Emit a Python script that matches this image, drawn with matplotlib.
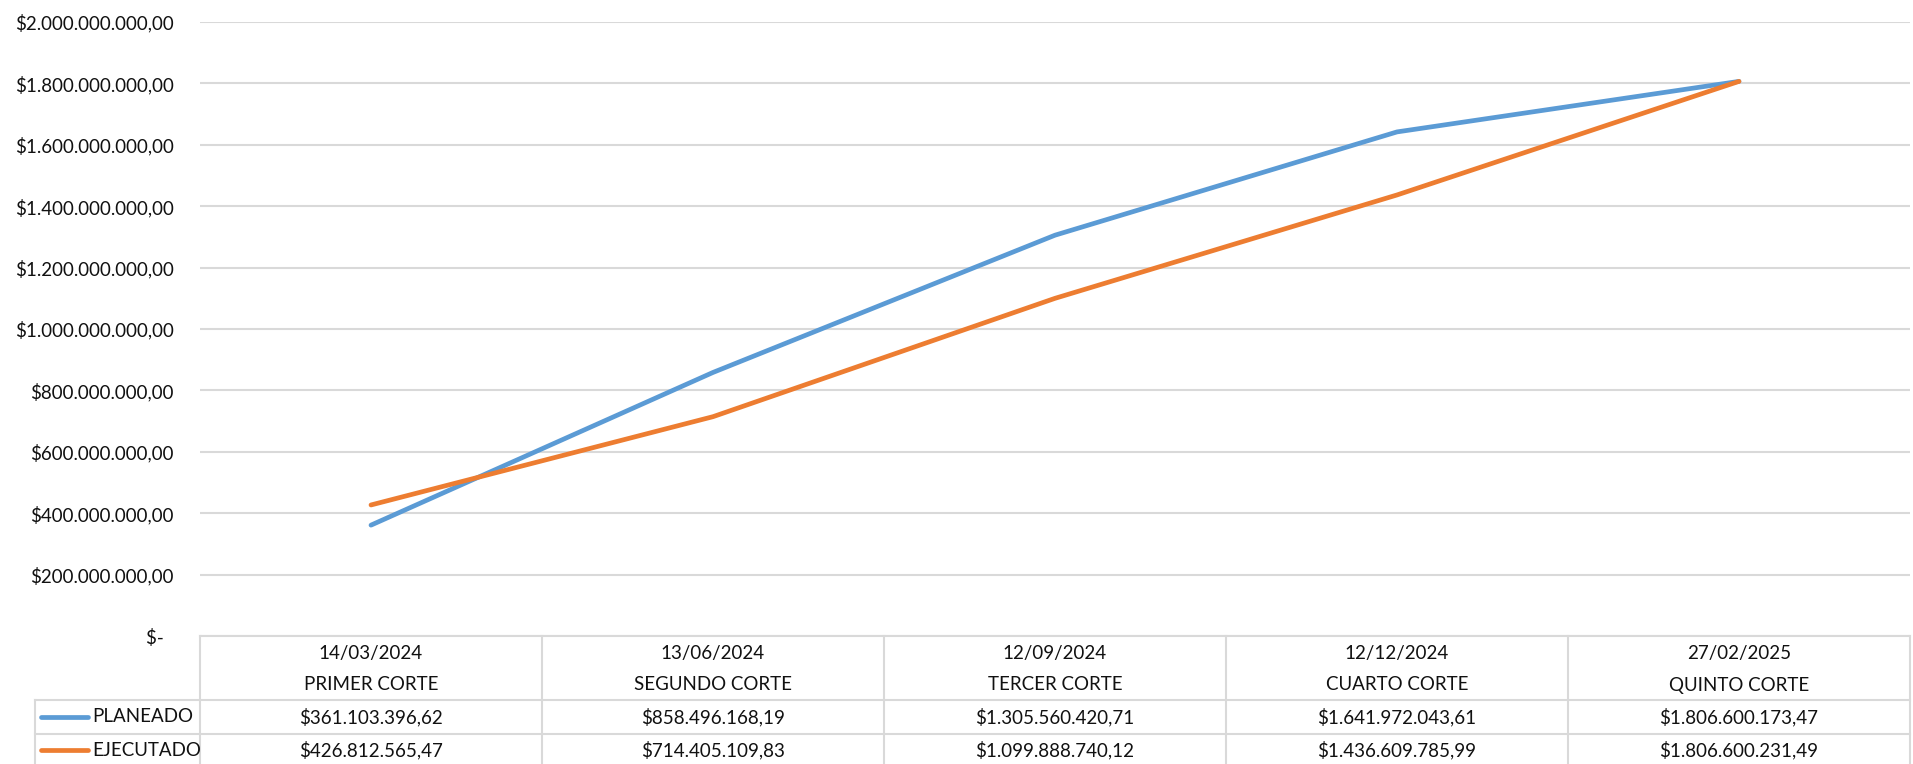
#!/usr/bin/env python3
"""Curva S: planeado vs ejecutado por corte, con tabla de datos debajo."""

import matplotlib
matplotlib.use("Agg")
import matplotlib.pyplot as plt
from matplotlib.lines import Line2D
from matplotlib.ticker import FuncFormatter

# --- data ---
fechas = ["14/03/2024", "13/06/2024", "12/09/2024", "12/12/2024", "27/02/2025"]
cortes = ["PRIMER CORTE", "SEGUNDO CORTE", "TERCER CORTE", "CUARTO CORTE", "QUINTO CORTE"]
planeado = [361103396.62, 858496168.19, 1305560420.71, 1641972043.61, 1806600173.47]
ejecutado = [426812565.47, 714405109.83, 1099888740.12, 1436609785.99, 1806600231.49]
series = ["PLANEADO", "EJECUTADO"]
colores = ["#5B9BD5", "#ED7D31"]

W, H = 1913, 764
GRID = "#D9D9D9"
TXT = "#111111"
plt.rcParams['font.family'] = ['Lato', 'DejaVu Sans']
FS = 13.5


def fx(px):
    return px / W


def fy(py):
    return 1 - py / H


def pesos(v):
    """Formato colombiano: $1.234.567,89"""
    s = f"{v:,.2f}"
    s = s.replace(",", "X").replace(".", ",").replace("X", ".")
    return "$" + s


fig = plt.figure(figsize=(W / 100, H / 100), dpi=100)
# plot area: x 200..1910 px, y 22..636 px
ax = fig.add_axes([fx(200), fy(636), fx(1910 - 200), (636 - 22) / H])

x = list(range(len(cortes)))
for vals, c in zip([planeado, ejecutado], colores):
    ax.plot(x, vals, color=c, lw=3.4, solid_capstyle='round')

ax.set_xlim(-0.5, len(cortes) - 0.5)
ax.set_ylim(0, 2e9)
ax.set_yticks([i * 2e8 for i in range(11)])
ax.yaxis.set_major_formatter(FuncFormatter(lambda v, p: "$-  " if v == 0 else pesos(v)))
ax.tick_params(axis='y', length=0, pad=19, labelsize=FS, labelcolor=TXT)
ax.set_xticks([])
ax.grid(axis='y', color=GRID, lw=1.5)
ax.set_axisbelow(True)
for s in ax.spines.values():
    s.set_visible(False)

# --- data table below the plot ---
col_w = (1910 - 200) / len(cortes)
col_edges = [200 + i * col_w for i in range(len(cortes) + 1)]
y_top, y_r1, y_r2, y_bot = 636, 700, 734, 768
lkw = dict(color=GRID, lw=1.5, transform=fig.transFigure)

fig.add_artist(Line2D([fx(200), fx(1910)], [fy(y_top)] * 2, **lkw))
for yy in (y_r1, y_r2, y_bot):
    fig.add_artist(Line2D([fx(35), fx(1910)], [fy(yy)] * 2, **lkw))
for xe in col_edges:
    fig.add_artist(Line2D([fx(xe)] * 2, [fy(y_top), fy(y_bot)], **lkw))
fig.add_artist(Line2D([fx(35)] * 2, [fy(y_r1), fy(y_bot)], **lkw))

for i, (f, c) in enumerate(zip(fechas, cortes)):
    cx = fx(col_edges[i] + col_w / 2)
    fig.text(cx, fy(653), f, ha='center', va='center', fontsize=FS, color=TXT)
    fig.text(cx, fy(685), c, ha='center', va='center', fontsize=FS, color=TXT)
    fig.text(cx, fy(717), pesos(planeado[i]), ha='center', va='center', fontsize=FS, color=TXT)
    fig.text(cx, fy(750), pesos(ejecutado[i]), ha='center', va='center', fontsize=FS, color=TXT)

for name, c, yy in zip(series, colores, (717, 750)):
    fig.add_artist(Line2D([fx(41), fx(88)], [fy(yy)] * 2, color=c, lw=3.4,
                          solid_capstyle='round', transform=fig.transFigure))
    fig.text(fx(92), fy(yy), name, ha='left', va='center', fontsize=FS, color=TXT)

fig.savefig("out.png", dpi=100, facecolor="white")
plt.close(fig)
